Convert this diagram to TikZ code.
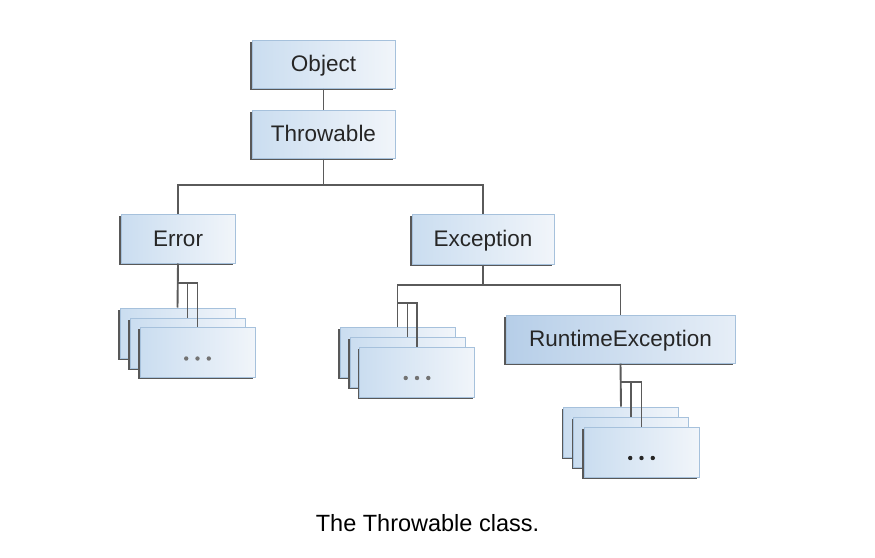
\documentclass[tikz,border=0pt]{standalone}
\usepackage{fontspec}
\setmainfont{Liberation Sans}
\usetikzlibrary{shadows}

\definecolor{boxL}{HTML}{CADDF0}
\definecolor{boxR}{HTML}{F1F5FA}
\definecolor{rtL}{HTML}{B6CEE8}
\definecolor{rtR}{HTML}{E6EEF7}
\definecolor{boxEdge}{HTML}{A6C1DC}
\definecolor{shade}{HTML}{585858}
\definecolor{wire}{HTML}{5A5A5A}
\definecolor{label}{HTML}{262626}

\tikzset{
  cls/.style={rectangle, draw=boxEdge, line width=1pt,
    left color=boxL, right color=boxR, text=label,
    inner sep=0pt, text height=15.5pt, text depth=0pt,
    font=\fontsize{22.5}{26}\selectfont,
    general shadow={shadow xshift=-1.6pt, shadow yshift=-1.6pt, fill=shade}},
  rt/.style={cls, left color=rtL, right color=rtR},
  stackbox/.style={cls, minimum width=115pt, minimum height=50pt},
  wireline/.style={draw=wire, line width=1.9pt},
}

\begin{document}
\begin{tikzpicture}[x=1pt, y=-1pt]
  \useasboundingbox (0,0) rectangle (875,557);

  % main classes
  \node[cls, minimum width=143pt, minimum height=48pt] (obj) at (323.5,64) {Object};
  \node[cls, minimum width=143pt, minimum height=48pt] (thr) at (323.5,134) {Throwable};
  \node[cls, minimum width=114pt, minimum height=49pt] (err) at (178,238.5) {Error};
  \node[cls, minimum width=142pt, minimum height=50pt] (exc) at (483,239) {Exception};
  \node[rt, minimum width=229pt, minimum height=48pt] (rte) at (620.5,339) {RuntimeException};

  % stacks of subclasses
  \node[stackbox] (e1) at (177.5,333) {};
  \node[stackbox] (e2) at (187.5,343) {};
  \node[stackbox] (e3) at (197.5,352.5) {};

  \node[stackbox] (x1) at (397.5,352) {};
  \node[stackbox] (x2) at (407.5,362) {};
  \node[stackbox] (x3) at (417,372) {};

  \node[stackbox] (r1) at (621,432) {};
  \node[stackbox] (r2) at (631,442) {};
  \node[stackbox] (r3) at (641.5,452) {};

  % ellipses in the front boxes
  \foreach \b/\c in {e3/black!55, x3/black!55, r3/black!85} {
    \foreach \dx in {-11.3,0,11.3}
      \fill[\c] ([xshift=\dx pt, yshift=-6pt]\b.center) circle (2.2pt);
  }

  % branch points
  \coordinate (tb) at (323.5,185);
  \coordinate (eb) at (178,283);
  \coordinate (xb) at (483,285);
  \coordinate (xs) at (397.5,303);
  \coordinate (rb) at (621,382);

  % connectors
  \draw[wireline] (obj) -- (thr);
  \draw[wireline] (thr) -- (tb);
  \draw[wireline] (err.north) |- (tb) -| (exc.north);

  \draw[wireline] (err.south) -- (e1.north);
  \draw[wireline] (eb) -| (e3.north);
  \draw[wireline] (e2.north |- eb) -- (e2.north);

  \draw[wireline] (exc.south) -- (xb);
  \draw[wireline] (x1.north) |- (xb) -| (rte.north);
  \draw[wireline] (x1.north |- xs) -| (x3.north);
  \draw[wireline] (x2.north |- xs) -- (x2.north);

  \draw[wireline] (rte.south) -- (r1.north);
  \draw[wireline] (rb) -| (r3.north);
  \draw[wireline] (r2.north |- rb) -- (r2.north);

  % caption
  \node[anchor=base, inner sep=0pt, font=\fontsize{23.5}{28}\selectfont] (cap)
    at (427.5,531.5) {The Throwable class.};
\end{tikzpicture}
\end{document}
